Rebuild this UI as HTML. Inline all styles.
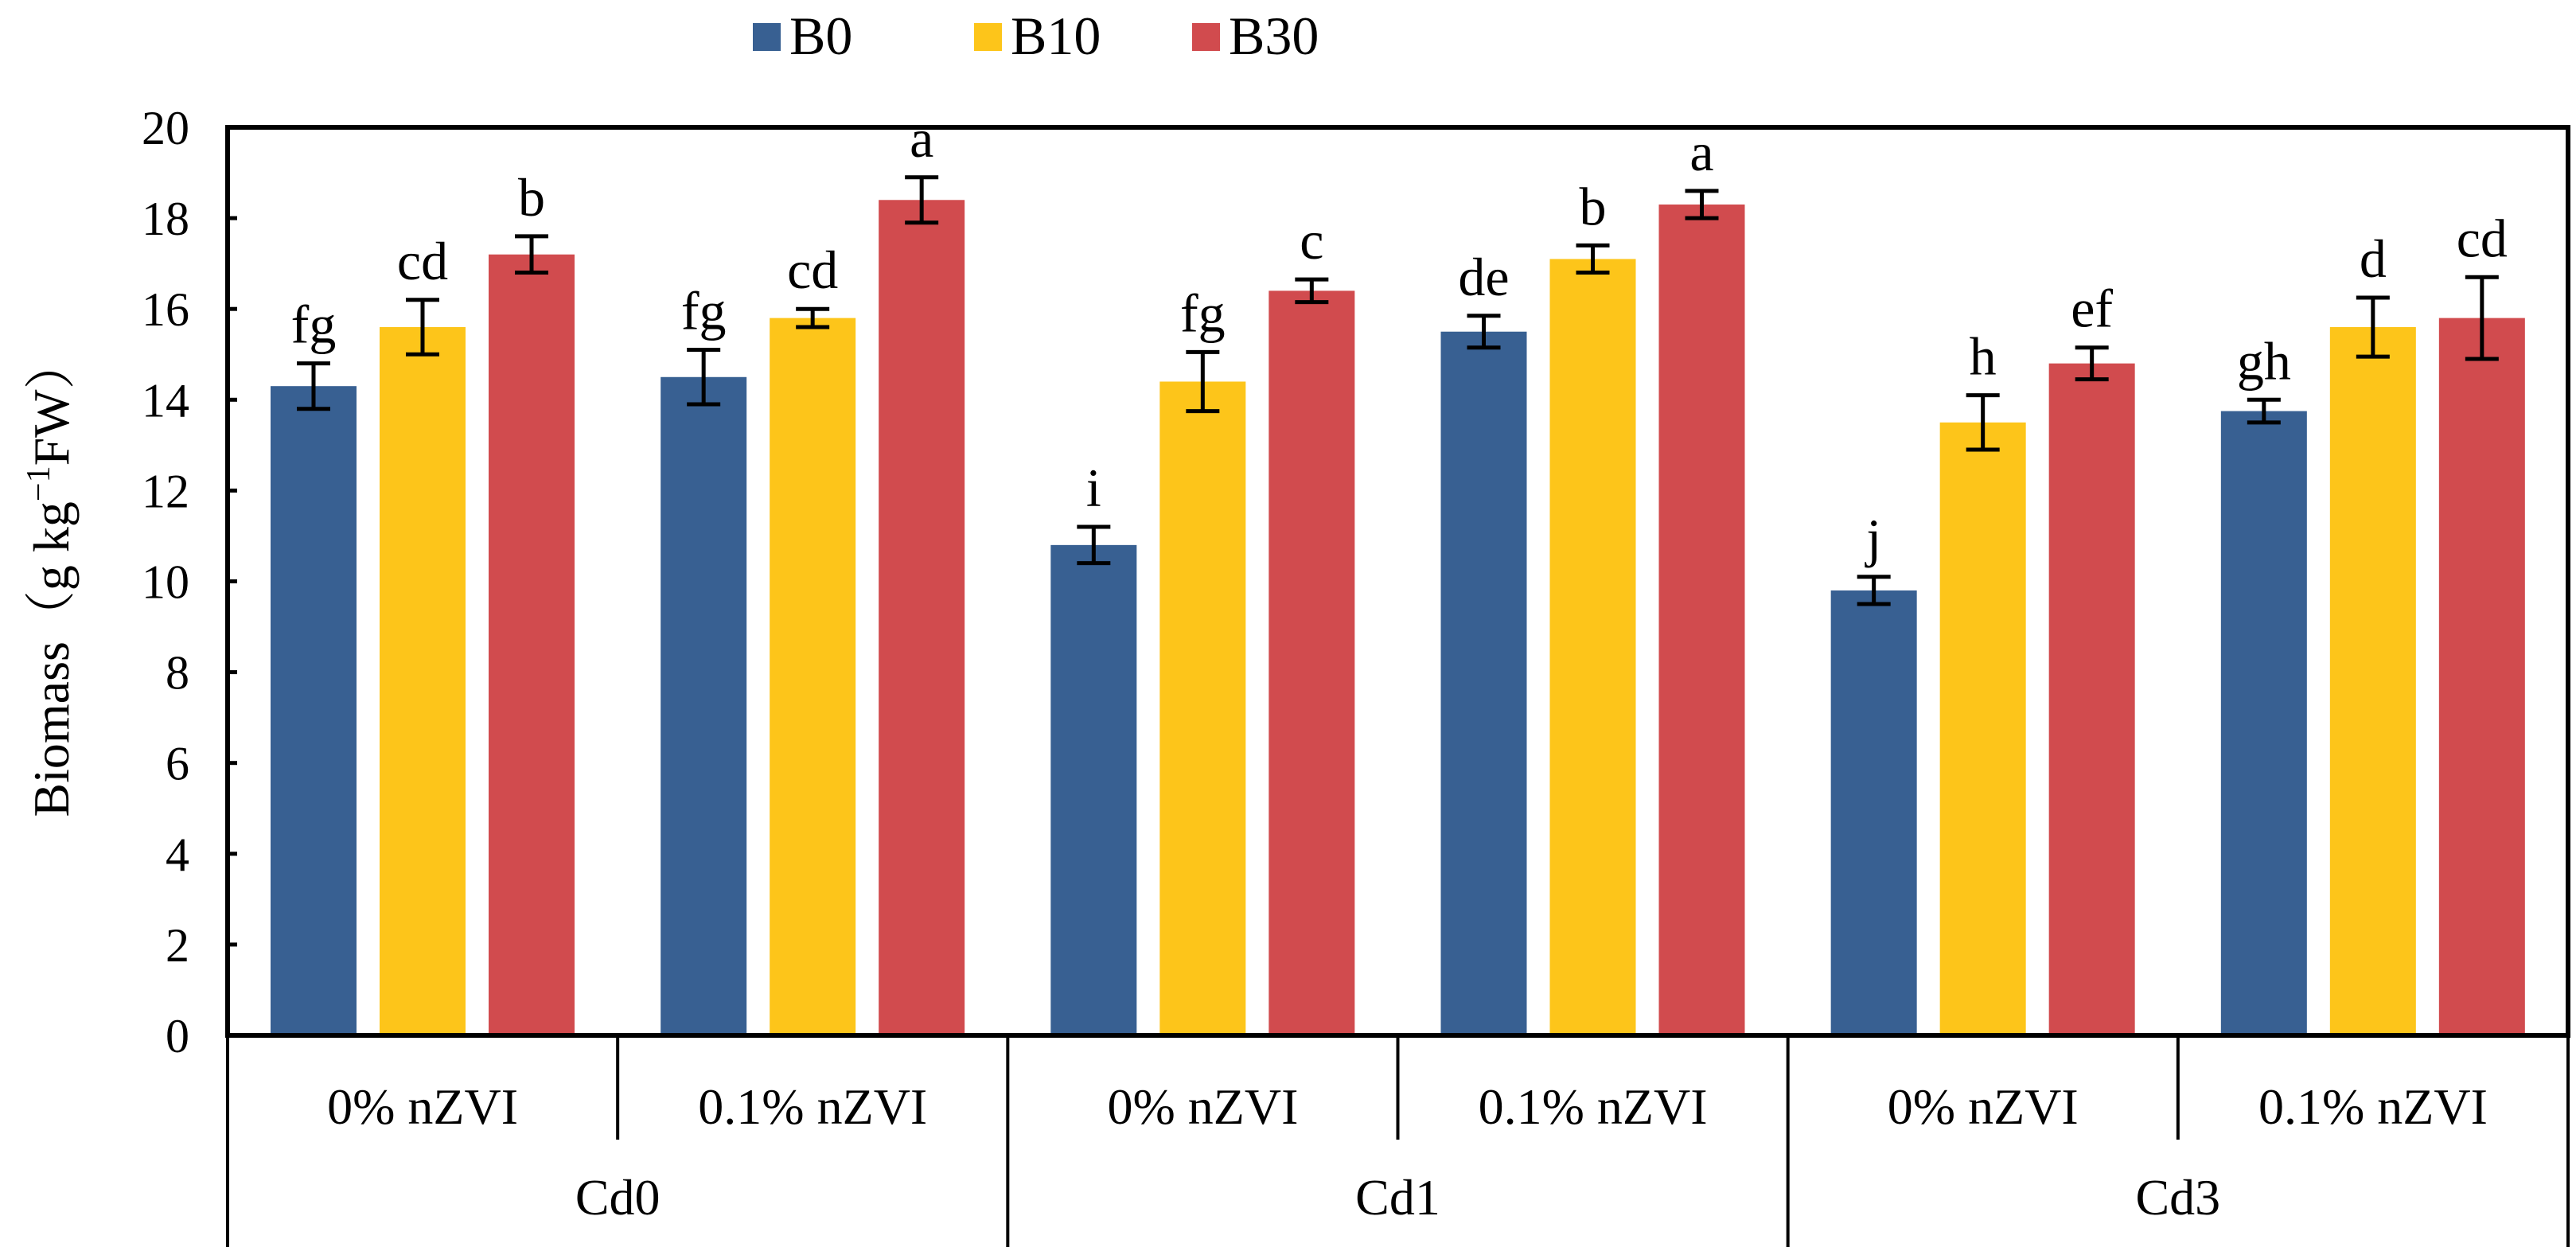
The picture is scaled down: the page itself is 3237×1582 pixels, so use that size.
<!DOCTYPE html>
<html><head><meta charset="utf-8"><style>
html,body{margin:0;padding:0;background:#fff}
svg{display:block;font-family:"Liberation Serif",serif}
</style></head><body>
<svg id="chart" width="3237" height="1582" viewBox="0 0 3237 1582" xmlns="http://www.w3.org/2000/svg">
<g id="legend"></g>
<g id="bars"></g>
<g id="axes"></g>
<text transform="translate(86,726) rotate(-90)" text-anchor="middle" font-size="64" font-family="Liberation Serif, Noto Serif CJK SC, serif">Biomass（g kg<tspan font-size="42" dy="-24">−1</tspan><tspan dy="24">FW）</tspan></text>
</svg>
<script>
const series = ["B0","B10","B30"];
const colors = ["#386092","#fdc51a","#d14b4e"];
const subcats = ["0% nZVI","0.1% nZVI","0% nZVI","0.1% nZVI","0% nZVI","0.1% nZVI"];
const groups = ["Cd0","Cd1","Cd3"];
const b0 = [14.3,14.5,10.8,15.5,9.8,13.75];
const b10 = [15.6,15.8,14.4,17.1,13.5,15.6];
const b30 = [17.2,18.4,16.4,18.3,14.8,15.8];
const e0 = [0.5,0.6,0.4,0.35,0.3,0.25];
const e10 = [0.6,0.2,0.65,0.3,0.6,0.65];
const e30 = [0.4,0.5,0.25,0.3,0.35,0.9];
const l0 = ["fg","fg","i","de","j","gh"];
const l10 = ["cd","cd","fg","b","h","d"];
const l30 = ["b","a","c","a","ef","cd"];
const yTicks = [0,2,4,6,8,10,12,14,16,18,20];

const NS="http://www.w3.org/2000/svg";
const L=286,R=3227,T=160,B=1301,YMAX=20;
const y=v=>B-(v/YMAX)*(B-T);
const subW=(R-L)/subcats.length;
const x=(i,s)=>L+i*subW+54+s*137;
function mk(tag,attrs,parent){const e=document.createElementNS(NS,tag);for(const k in attrs)e.setAttribute(k,attrs[k]);parent.appendChild(e);return e;}
const bars=document.getElementById('bars'),axes=document.getElementById('axes'),leg=document.getElementById('legend');
const vals=[b0,b10,b30],errs=[e0,e10,e30],lets=[l0,l10,l30];
for(let i=0;i<subcats.length;i++){for(let s=0;s<3;s++){
 const v=vals[s][i],e=errs[s][i],bx=x(i,s),cx=bx+54;
 const r=mk('rect',{x:bx,y:y(v),width:108,height:B-y(v),fill:colors[s]},bars);
 
 
 const eb=mk('path',{d:`M${cx},${y(v+e)}V${y(v-e)}M${cx-21},${y(v+e)}H${cx+21}M${cx-21},${y(v-e)}H${cx+21}`,stroke:'#000','stroke-width':5,fill:'none'},bars);
 
 
 const t=mk('text',{x:cx,y:y(v+e)-26,'text-anchor':'middle','font-size':68},bars);t.textContent=lets[s][i];
 
 
}}
mk('rect',{x:L,y:T,width:R-L,height:B-T,fill:'none',stroke:'#000','stroke-width':6},axes);
for(const v of yTicks){
 mk('line',{x1:L,x2:L+12,y1:y(v),y2:y(v),stroke:'#000','stroke-width':5},axes);
 const t=mk('text',{x:238,y:y(v)+21,'text-anchor':'end','font-size':60},axes);t.textContent=v;
 
 
}
for(let i=0;i<=subcats.length;i++){
 const xx=L+i*subW;
 mk('line',{x1:xx,x2:xx,y1:B,y2:(i%2==0)?1567:1432,stroke:'#000','stroke-width':4},axes);
}
subcats.forEach((c,i)=>{const t=mk('text',{x:L+(i+0.5)*subW,y:1412,'text-anchor':'middle','font-size':64},axes);t.textContent=c;
 
 });
groups.forEach((g,i)=>{const t=mk('text',{x:L+(i+0.5)*2*subW,y:1526,'text-anchor':'middle','font-size':64},axes);t.textContent=g;
 
 });
const lx=[946,1224,1498];
series.forEach((s,i)=>{
 const r=mk('rect',{x:lx[i],y:29,width:35,height:35,fill:colors[i]},leg);
 
 
 const t=mk('text',{x:lx[i]+46,y:68,'font-size':68},leg);t.textContent=s;
 
 
});
</script>
</body></html>
